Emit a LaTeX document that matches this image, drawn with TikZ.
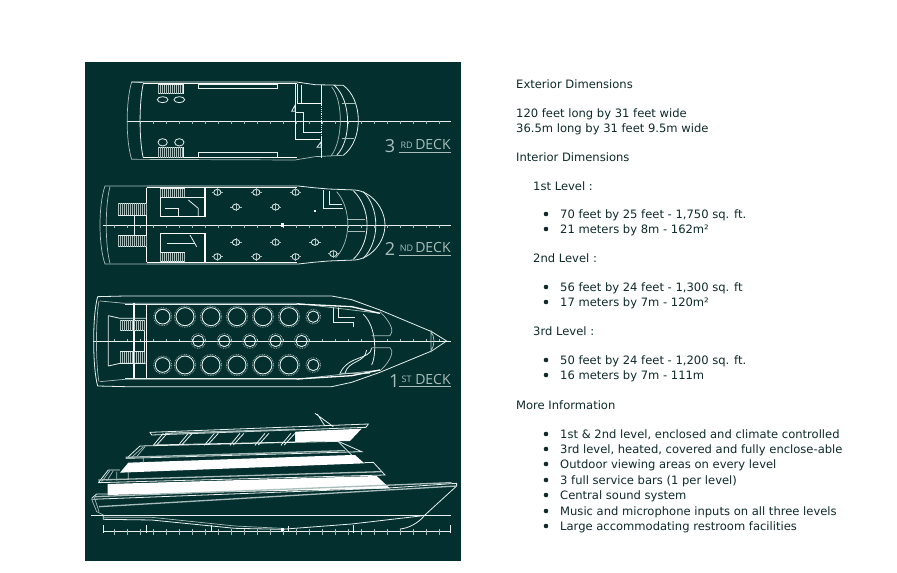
\documentclass[tikz,border=0pt]{standalone}
\usepackage{fontspec}
\setmainfont{DejaVu Sans}
\newfontfamily\deckfont{Open Sans}
\definecolor{panelgreen}{HTML}{03302F}
\definecolor{inktext}{HTML}{0E2A2A}
\definecolor{linew}{HTML}{E8F0EE}
\definecolor{linef}{HTML}{A9BDBA}
\newcommand{\deckruler}[5]{% from, second, to, y, tick length
  \draw[wl] (#1,#4) -- (#3,#4);
  \foreach \tx in {#2,...,#3} \draw[wf] (\tx,#4) -- ++(0,#5);
}
\newcommand{\roundtbl}[3]{%
  \draw[wl,line width=.9pt] (#1,#2) circle (#3);
  \draw[wf,densely dotted,line width=.8pt] (#1,#2) circle ({#3+5});
}
\newcommand{\ovaltbl}[2]{%
  \draw[wl] (#1,#2) ellipse (11 and 9);
  \draw[wf] (#1-17,#2) -- (#1-11,#2) (#1+11,#2) -- (#1+17,#2) (#1,#2-12) -- (#1,#2+12);
}
\newcommand{\stairs}[4]{%
  \draw[wl] (#1,#2) rectangle (#3,#4);
  \pgfmathtruncatemacro\stairnext{#1+6}%
  \foreach \sx in {#1,\stairnext,...,#3} \draw[wf] (\sx,#2) -- (\sx,#4);
}
\tikzset{
  wl/.style={draw=linew,line width=.8pt},
  wf/.style={draw=linef,line width=.7pt},
  wt/.style={draw=white,line width=1.3pt},
  wg/.style={draw=linef,line width=1.3pt},
  zoomed/.style={x=.3333pt,y=-.3333pt},
  body/.style={anchor=base west,inner sep=0pt,text=inktext,font=\fontsize{11.55}{14}\selectfont},
  decktxt/.style={inner sep=0pt,text=linef,font=\deckfont\fontsize{#1}{#1}\selectfont}
}
\begin{document}
\begin{tikzpicture}[x=1pt,y=-1pt]
\useasboundingbox (0,0) rectangle (897,573);
\fill[white] (0,0) rectangle (897,573);
\fill[panelgreen] (85,62) rectangle (461,561);

% ---------- 3rd deck
\begin{scope}[shift={(85,62)},zoomed]
\deckruler{125}{165,204}{1098}{178}{8}
\draw[wf] (175,62) -- (140,60) .. controls (122,120) and (122,236) .. (140,292) -- (630,294) -- (690,284) -- (775,280);
\draw[wl] (140,60) -- (635,60) -- (690,68) -- (775,70);
\draw[wl] (175,64) .. controls (162,120) and (162,236) .. (175,288);
\draw[wt] (175,64) -- (635,64) (175,287) -- (635,287);
\draw[wl] (340,66) rectangle (578,80) (340,270) rectangle (578,285);
\stairs{220}{68}{296}{95}
\stairs{220}{255}{296}{287}
\draw[wl] (233,113) ellipse (16 and 9) (283,113) ellipse (16 and 9) (233,241) ellipse (14 and 11) (283,241) ellipse (14 and 11);
\draw[wl] (630,65) -- (630,232) (638,65) -- (638,125) (648,68) -- (648,125);
\draw[wt] (638,125) -- (710,125) (710,70) -- (710,130) (710,225) -- (710,288) (632,152) -- (632,232) -- (705,232);
\draw[wl,densely dotted] (710,130) -- (710,225);
\draw[wl] (632,152) -- (655,152) -- (655,212) -- (710,212);
\draw[wl] (620,148) -- (630,130) -- (630,148) -- cycle (696,256) -- (708,240) -- (708,256) -- cycle;
\draw[wf] (740,75) .. controls (775,115) and (775,235) .. (738,282);
\draw[wl] (748,70) .. controls (800,115) and (800,235) .. (755,280);
\draw[wl] (775,70) .. controls (835,115) and (835,235) .. (775,280);
\draw[wf] (770,125) -- (812,125) (770,230) -- (808,230);
\node[decktxt=18] (d3n) at (915,253) {3};
\node[decktxt=9] (d3s) at (965,250) {RD};
\node[decktxt=14] (d3d) at (1044,249) {DECK};
\draw[wf] (942,271) -- (1098,271);
\end{scope}

% ---------- 2nd deck
\begin{scope}[shift={(85,175)},zoomed]
\deckruler{55}{88,127}{1098}{150}{8}
\draw[wf] (185,33) -- (60,33) .. controls (40,90) and (40,210) .. (60,267) -- (185,267);
\draw[wf] (75,35) .. controls (60,90) and (60,210) .. (75,265);
\draw[wl] (185,33) -- (640,33) -- (685,38) -- (730,42) -- (810,45) .. controls (860,50) and (900,100) .. (900,150) .. controls (900,200) and (860,250) .. (810,255) -- (730,258) -- (685,262) -- (640,267) -- (185,267);
\draw[wt] (185,38) -- (635,38) (185,262) -- (635,262) (185,38) -- (185,262) (360,40) -- (360,125) -- (225,125) (360,175) -- (360,260) (228,175) -- (360,175);
\draw[wl] (225,68) -- (360,68) (225,40) -- (225,125) (225,175) -- (225,260);
\draw[wl] (240,100) -- (280,100) -- (280,125) (245,205) -- (330,205);
\draw[wl] (310,75) -- (340,100) -- (340,125) (315,180) -- (335,215);
\stairs{100}{85}{185}{120}
\stairs{100}{182}{185}{215}
\draw[wl] (148,120) -- (148,182);
\stairs{225}{41}{298}{67}
\stairs{225}{233}{298}{260}
\foreach \tx/\ty in {397/52,514/52,632/52,453/96,572/96,453/202,572/202,690/202,397/245,514/245,632/245,745/236}
  \ovaltbl{\tx}{\ty}
\fill[white] (587,145) rectangle (598,156);
\fill[white] (686,106) rectangle (692,110);
\draw[wl] (715,45) -- (715,100) -- (775,100) (733,48) -- (733,87) -- (770,87);
\draw[wf] (755,50) .. controls (800,100) and (800,200) .. (752,248);
\draw[wl] (805,47) .. controls (860,100) and (860,200) .. (805,253);
\draw[wl] (835,50) .. controls (885,100) and (885,200) .. (835,250);
\draw[wf] (790,132) -- (840,132) (790,170) -- (840,170);
\node[decktxt=18] (d2n) at (915,222) {2};
\node[decktxt=9] (d2s) at (965,219) {ND};
\node[decktxt=14] (d2d) at (1044,219) {DECK};
\draw[wf] (942,240) -- (1098,240);
\end{scope}

% ---------- 1st deck
\begin{scope}[shift={(85,285)},zoomed]
\deckruler{25}{88,127}{1098}{168}{-6}
\draw[wl] (120,33) -- (38,35) .. controls (22,90) and (22,246) .. (38,303) -- (120,305) -- (740,305) -- (800,292) -- (885,262) -- (1040,198) -- (1085,168) -- (1040,140) -- (885,75) -- (800,44) -- (740,33) -- cycle;
\draw[wf] (45,48) -- (120,55) -- (635,55) -- (885,85) (45,290) -- (120,283) -- (635,283) -- (885,255);
\draw[wf] (42,48) .. controls (32,100) and (32,240) .. (42,290);
\draw[wt] (147,55) -- (147,280) (185,60) -- (185,278);
\draw[wl] (120,58) -- (635,58) (120,280) -- (635,280);
\draw[wt] (635,57) -- (800,65) -- (885,85) (635,282) -- (800,272) -- (885,255);
\draw[wl] (70,92) -- (70,243) (70,92) -- (105,100) (70,243) -- (105,235) (105,100) -- (185,100) (105,235) -- (185,235);
\stairs{105}{105}{178}{137}
\stairs{105}{200}{178}{235}
\draw[wl] (178,137) -- (178,200);
\foreach \tx/\ty/\tr in {233/95/22,300/95/27,378/95/27,456/95/27,534/95/27,612/95/27,685/95/17,233/240/22,300/240/27,378/240/27,456/240/27,534/240/27,612/240/27,685/240/17,340/168/17,418/168/17,495/168/17,572/168/17,650/168/17}
  \roundtbl{\tx}{\ty}{\tr}
\draw[wl] (745,68) -- (745,112) -- (805,112) -- (805,125) (760,68) -- (760,98) -- (810,98);
\draw[wl] (835,88) .. controls (875,125) and (875,210) .. (860,240);
\draw[wf] (885,80) .. controls (925,120) and (925,140) .. (915,152) -- (860,152) (885,258) .. controls (925,220) and (925,195) .. (915,188) -- (860,188);
\draw[wl] (860,190) .. controls (855,225) and (790,210) .. (765,265) -- (855,265);
\draw[wl] (845,195) .. controls (840,235) and (790,225) .. (780,265);
\draw[wf] (1038,135) -- (1038,202) (1038,140) .. controls (1050,155) and (1050,180) .. (1038,198);
\node[decktxt=18] (d1n) at (928,288) {1};
\node[decktxt=9] (d1s) at (965,284) {ST};
\node[decktxt=14] (d1d) at (1044,283) {DECK};
\draw[wf] (942,305) -- (1098,305);
\end{scope}

% ---------- side view
\begin{scope}[shift={(85,400)},zoomed]
\fill[white] (632,95) -- (830,86) -- (795,123) -- (632,126) -- cycle;
\fill[white] (105,218) -- (130,188) -- (770,166) -- (810,165) -- (838,190) -- cycle;
\fill[white] (68,252) -- (875,228) -- (915,265) -- (68,285) -- cycle;
\draw[wl] (690,40) -- (745,80) (697,42) -- (720,78);
\draw[wl] (195,97) -- (850,72) -- (843,82) -- (200,105) -- cycle;
\draw[wg] (240,100) -- (630,88);
\draw[wl] (205,135) -- (632,126) (632,96) -- (632,126);
\foreach \tx in {205,280,358,435,510,588}
  \draw[wl] (\tx,136) -- (\tx+30,100) (\tx+10,135) -- (\tx+42,100);
\draw[wl] (165,138) -- (760,124) -- (830,155) -- (125,175) -- cycle;
\draw[wf] (140,172) -- (175,140) (155,170) -- (180,140) (175,172) -- (175,188);
\draw[wg] (122,172) -- (780,152);
\draw[wl] (760,125) -- (800,165);
\draw[wl] (40,248) -- (70,210) -- (105,210) (40,248) -- (900,225) -- (865,187) -- (838,188);
\draw[wf] (50,245) -- (75,212) (65,243) -- (85,212) (95,215) -- (95,242) (130,215) -- (130,240);
\draw[wg] (40,240) -- (890,215);
\draw[wl] (20,295) -- (35,282) -- (68,282);
\draw[wl] (20,298) -- (910,264) -- (1115,250) -- (1115,258) -- (1020,345) .. controls (1000,370) and (970,385) .. (945,387);
\draw[wg] (30,290) -- (1100,248);
\draw[wf] (20,298) -- (35,335) -- (55,345) (28,292) -- (42,335);
\draw[wg] (42,320) -- (1115,258);
\draw[wl] (18,345) -- (1098,345);
\draw[wl] (55,345) -- (55,358) -- (200,360) -- (450,385) -- (590,388) -- (800,372) -- (1015,347);
\draw[wf] (55,352) -- (200,352) -- (450,378) -- (590,385);
\draw[wl] (378,375) -- (378,392) (610,378) -- (610,392);
\draw[wl] (55,395) -- (1095,395);
\foreach \tx in {55,185,805,1095} \draw[wl] (\tx,376) -- (\tx,400);
\foreach \tx in {88,127,...,1095} \draw[wf] (\tx,388) -- (\tx,405);
\fill[white] (587,384) rectangle (598,394);
\end{scope}

% ---------- text column
\node[body] (t1) at (516,88) {Exterior Dimensions};
\node[body] (t2) at (516,117) {120 feet long by 31 feet wide};
\node[body] (t3) at (516,132) {36.5m long by 31 feet 9.5m wide};
\node[body] (t4) at (516,161) {Interior Dimensions};
\node[body] (t5) at (533,190) {1st Level :};
\node[body] (t6) at (560,218) {70 feet by 25 feet - 1,750 sq. ft.};
\node[body] (t7) at (560,233) {21 meters by 8m - 162m²};
\node[body] (t8) at (533,262) {2nd Level :};
\node[body] (t9) at (560,291) {56 feet by 24 feet - 1,300 sq. ft};
\node[body] (t10) at (560,306) {17 meters by 7m - 120m²};
\node[body] (t11) at (533,335) {3rd Level :};
\node[body] (t12) at (560,364) {50 feet by 24 feet - 1,200 sq. ft.};
\node[body] (t13) at (560,379) {16 meters by 7m - 111m};
\node[body] (t14) at (516,409) {More Information};
\node[body] (t15) at (560,438) {1st \& 2nd level, enclosed and climate controlled};
\node[body] (t16) at (560,453) {3rd level, heated, covered and fully enclose-able};
\node[body] (t17) at (560,468) {Outdoor viewing areas on every level};
\node[body] (t18) at (560,484) {3 full service bars (1 per level)};
\node[body] (t19) at (560,499) {Central sound system};
\node[body] (t20) at (560,515) {Music and microphone inputs on all three levels};
\node[body] (t21) at (560,530) {Large accommodating restroom facilities};
\foreach \by in {214,229,287,302,360,375,434,449,464,480,495,511,526}
  \fill[inktext] (546,\by) circle (2.3);
\end{tikzpicture}
\end{document}
